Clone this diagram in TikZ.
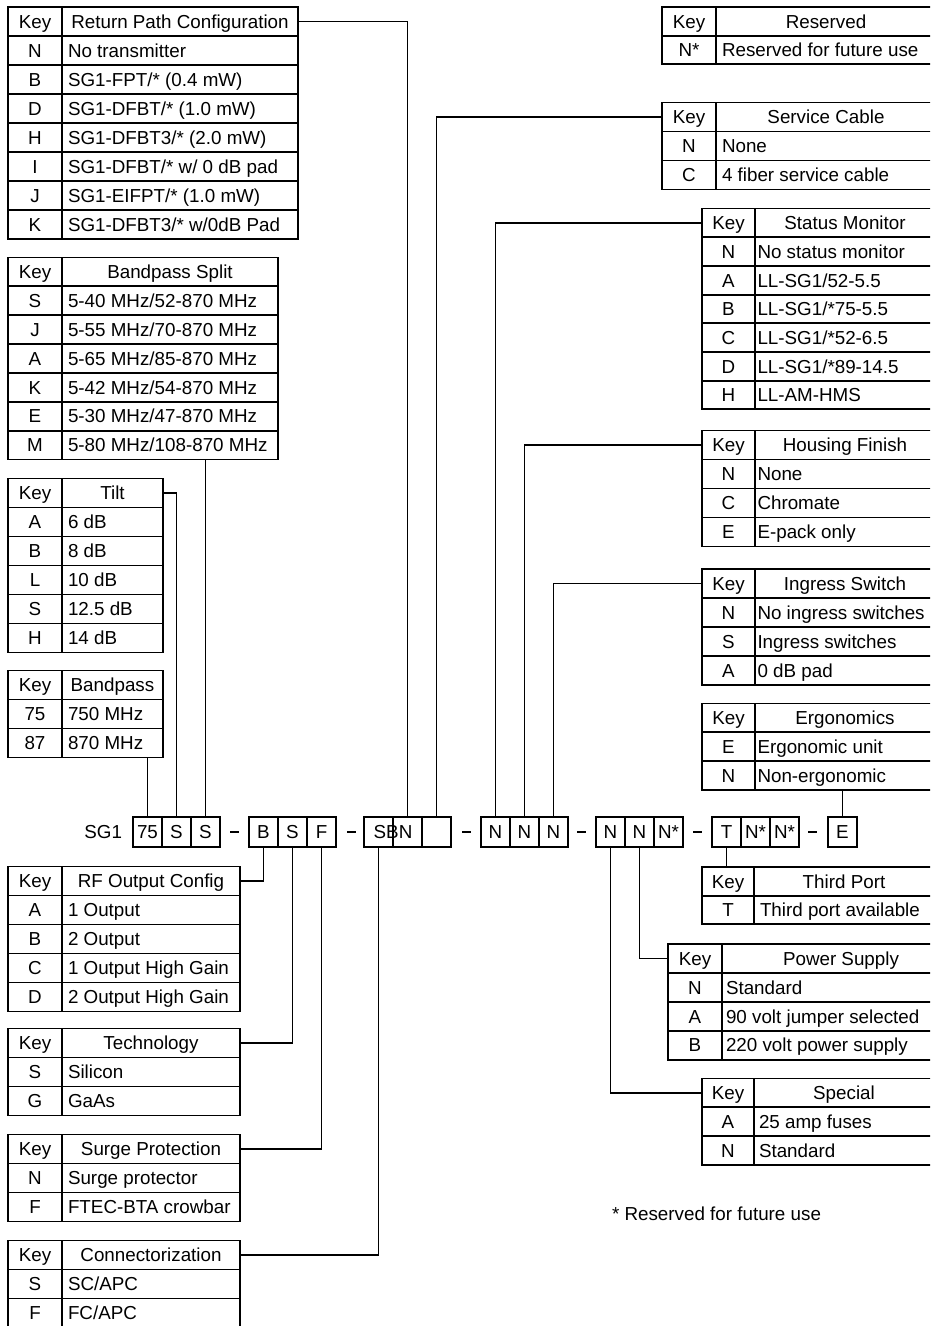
\documentclass[tikz,border=0pt]{standalone}
\usepackage{fontspec}
\setmainfont{Liberation Sans}
\usetikzlibrary{calc}
\tikzset{
  tline/.style={line width=1.9pt},
  conn/.style={line width=1.9pt},
  dashbar/.style={line width=2.8pt},
  txt/.style={inner sep=0pt, outer sep=0pt, text height=13.5pt, text depth=0pt, font=\fontsize{18.8}{22}\selectfont},
  keytxt/.style={txt, anchor=center},
  valtxt/.style={txt, anchor=west},
  hdrtxt/.style={txt, anchor=center},
  tabframe/.style={draw, line width=1.9pt, inner sep=0pt, outer sep=0pt, anchor=north west},
  cell/.style={draw, line width=1.9pt, minimum width=29pt, minimum height=30pt, inner sep=0pt, outer sep=0pt, text height=13.5pt, text depth=0pt, font=\fontsize{18.8}{22}\selectfont}
}
\def\tabpad{6}
% #1 name #2 left #3 sep #4 right #5 top #6 row height #7 rows (incl. header) #8 header #9 rows
\newcommand\ktab[9]{%
  \pgfmathsetmacro\tbw{#4-#2}%
  \pgfmathsetmacro\tbh{#6*#7}%
  \pgfmathsetmacro\tbb{#5+#6*#7}%
  \pgfmathtruncatemacro\tbn{#7-1}%
  \node[tabframe, minimum width=\tbw pt, minimum height=\tbh pt] (#1) at (#2,#5) {};
  \draw[tline] (#3,#5) -- (#3,\tbb);
  \foreach \i in {1,...,\tbn} {\draw[tline] (#2,{#5+#6*\i}) -- (#4,{#5+#6*\i});}
  \node[keytxt] (#1-kh) at ({(#2+#3)/2},{#5+#6/2}) {Key};
  \node[hdrtxt] (#1-h) at ({(#3+#4)/2},{#5+#6/2}) {#8};
  \foreach [count=\n] \k/\v in {#9} {
    \node[keytxt] (#1-k\n) at ({(#2+#3)/2},{#5+#6*(\n+0.5)}) {\k};
    \node[valtxt] (#1-v\n) at ({#3+\tabpad},{#5+#6*(\n+0.5)}) {\v};
  }
  \coordinate (#1-r) at (#4,{#5+#6/2});
  \coordinate (#1-l) at (#2,{#5+#6/2});
}
\begin{document}
\begin{tikzpicture}[x=1pt,y=-1pt]
\useasboundingbox (0,0) rectangle (930,1326);
\clip (0,0) rectangle (930,1326);
\fill[white] (0,0) rectangle (930,1326);

% left tables
\def\tabpad{6}
\ktab{rp}{8}{62}{298}{7}{29}{8}{Return Path Configuration}{N/{No transmitter},B/{SG1-FPT/* (0.4 mW)},D/{SG1-DFBT/* (1.0 mW)},H/{SG1-DFBT3/* (2.0 mW)},I/{SG1-DFBT/* w/ 0 dB pad},J/{SG1-EIFPT/* (1.0 mW)},K/{SG1-DFBT3/* w/0dB Pad}}
\ktab{bs}{8}{62}{278}{257.5}{28.85}{7}{Bandpass Split}{S/{5-40 MHz/52-870 MHz},J/{5-55 MHz/70-870 MHz},A/{5-65 MHz/85-870 MHz},K/{5-42 MHz/54-870 MHz},E/{5-30 MHz/47-870 MHz},M/{5-80 MHz/108-870 MHz}}
\ktab{tl}{8}{62}{163}{478.5}{29}{6}{Tilt}{A/{6 dB},B/{8 dB},L/{10 dB},S/{12.5 dB},H/{14 dB}}
\ktab{bp}{8}{62}{163}{670.5}{29}{3}{Bandpass}{75/{750 MHz},87/{870 MHz}}
\ktab{rf}{8}{62}{240}{866.5}{29}{5}{RF Output Config}{A/{1 Output},B/{2 Output},C/{1 Output High Gain},D/{2 Output High Gain}}
\ktab{te}{8}{62}{240}{1028.5}{29}{3}{Technology}{S/{Silicon},G/{GaAs}}
\ktab{su}{8}{62}{240}{1134.5}{29}{3}{Surge Protection}{N/{Surge protector},F/{FTEC-BTA crowbar}}
\ktab{cn}{8}{62}{240}{1240.5}{29}{3}{Connectorization}{S/{SC/APC},F/{FC/APC}}

% right tables
\ktab{rs}{662}{716}{936}{7}{28.7}{2}{Reserved}{{N*}/{Reserved for future use}}
\ktab{sc}{662}{716}{936}{102.5}{29}{3}{Service Cable}{N/{None},C/{4 fiber service cable}}
\def\tabpad{2.5}
\ktab{sm}{702}{755}{935}{208.5}{28.7}{7}{Status Monitor}{N/{No status monitor},A/{LL-SG1/52-5.5},B/{LL-SG1/*75-5.5},C/{LL-SG1/*52-6.5},D/{LL-SG1/*89-14.5},H/{LL-AM-HMS}}
\ktab{hf}{702}{755}{935}{430.5}{29}{4}{Housing Finish}{N/{None},C/{Chromate},E/{E-pack only}}
\ktab{is}{702}{755}{935}{569}{29}{4}{Ingress Switch}{N/{No ingress switches},S/{Ingress switches},A/{0 dB pad}}
\ktab{er}{702}{755}{935}{703.5}{28.9}{3}{Ergonomics}{E/{Ergonomic unit},N/{Non-ergonomic}}
\def\tabpad{6}
\ktab{tp}{702}{754}{934}{867}{28.7}{2}{Third Port}{T/{Third port available}}
\def\tabpad{4}
\ktab{ps}{668}{722}{960}{944}{28.9}{4}{Power Supply}{N/{Standard},A/{90 volt jumper selected},B/{220 volt power supply}}
\def\tabpad{5}
\ktab{sp}{702}{754}{934}{1078.5}{28.7}{3}{Special}{A/{25 amp fuses},N/{Standard}}

% code boxes
\node[valtxt, anchor=east] (sg1) at (122,832) {SG1};
\node[cell] (c1a) at (147.5,832) {75};
\node[cell] (c1b) at (176.5,832) {S};
\node[cell] (c1c) at (205.5,832) {S};
\node[cell] (c2a) at (263.5,832) {B};
\node[cell] (c2b) at (292.5,832) {S};
\node[cell] (c2c) at (321.5,832) {F};
\node[cell] (c3a) at (378.5,832) {};
\node[cell] (c3b) at (407.5,832) {};
\node[cell] (c3c) at (436.5,832) {};
\node[keytxt] (sbn) at (393,832) {SBN};
\node[cell] (c4a) at (495.5,832) {N};
\node[cell] (c4b) at (524.5,832) {N};
\node[cell] (c4c) at (553.5,832) {N};
\node[cell] (c5a) at (610.5,832) {N};
\node[cell] (c5b) at (639.5,832) {N};
\node[cell] (c5c) at (668.5,832) {N*};
\node[cell] (c6a) at (726.5,832) {T};
\node[cell] (c6b) at (755.5,832) {N*};
\node[cell] (c6c) at (784.5,832) {N*};
\node[cell] (c7) at (842.5,832) {E};

% dashes between groups
\draw[dashbar] (230,832) -- (239,832);
\draw[dashbar] (347,832) -- (356,832);
\draw[dashbar] (462,832) -- (471,832);
\draw[dashbar] (577,832) -- (586,832);
\draw[dashbar] (693,832) -- (702,832);
\draw[dashbar] (808,832) -- (817,832);

% connectors above
\draw[conn] (rp-r) -| (c3b.north);
\draw[conn] (c3c.north) |- (sc-l);
\draw[conn] (c1c.north) -- (c1c.north |- bs.south);
\draw[conn] (tl-r) -| (c1b.north);
\draw[conn] (c1a.north) -- (c1a.north |- bp.south);
\draw[conn] (c4a.north) |- (sm-l);
\draw[conn] (c4b.north) |- (hf-l);
\draw[conn] (c4c.north) |- (is-l);
\draw[conn] (c7.north) -- (c7.north |- er.south);

% connectors below
\draw[conn] (c6a.south) -- (c6a.south |- tp.north);
\draw[conn] (c5b.south) |- (ps-l);
\draw[conn] (c5a.south) |- (sp-l);
\draw[conn] (c2a.south) |- (rf-r);
\draw[conn] (c2b.south) |- (te-r);
\draw[conn] (c2c.south) |- (su-r);
\draw[conn] (c3a.south) |- (cn-r);

\node[valtxt] (fn) at (612,1214) {* Reserved for future use};
\end{tikzpicture}
\end{document}
